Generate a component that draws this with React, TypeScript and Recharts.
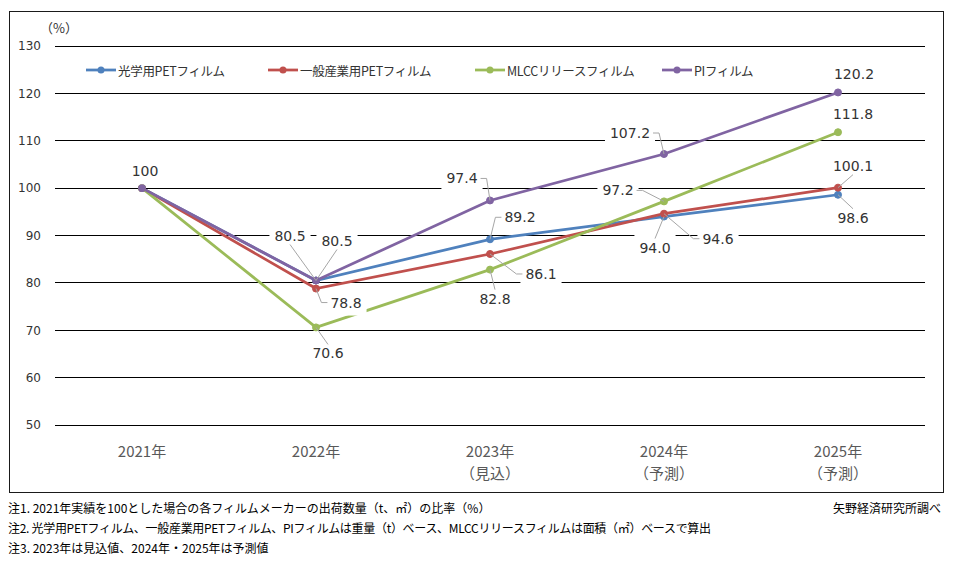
import { CartesianGrid, LabelList, Line, LineChart, XAxis, YAxis } from "recharts";

const years = ["2021年", "2022年", "2023年", "2024年", "2025年"];
const yearNotes = ["", "", "（見込）", "（予測）", "（予測）"];

const opticalPet = [100, 80.5, 89.2, 94.0, 98.6];
const industrialPet = [100, 78.8, 86.1, 94.6, 100.1];
const mlccRelease = [100, 70.6, 82.8, 97.2, 111.8];
const piFilm = [100, 80.5, 97.4, 107.2, 120.2];

const yTicks = [50, 60, 70, 80, 90, 100, 110, 120, 130];

const notes = [
  "注1. 2021年実績を100とした場合の各フィルムメーカーの出荷数量（t、㎡）の比率（%）",
  "注2. 光学用PETフィルム、一般産業用PETフィルム、PIフィルムは重量（t）ベース、MLCCリリースフィルムは面積（㎡）ベースで算出",
  "注3. 2023年は見込値、2024年・2025年は予測値",
];
const source = "矢野経済研究所調べ";

const data = years.map((year, i) => ({
  year,
  optical: opticalPet[i],
  industrial: industrialPet[i],
  mlcc: mlccRelease[i],
  pi: piFilm[i],
}));

// label placement relative to the point, like the moved excel labels
type LabelPos = { dx: number; dy: number; leader?: "h" | "v" } | null;

const series = [
  {
    key: "optical",
    name: "光学用PETフィルム",
    color: "#4F81BD",
    labels: [null, { dx: -26, dy: -45, leader: "v" }, { dx: 30, dy: -22, leader: "h" }, { dx: -9, dy: 31, leader: "v" }, { dx: 15, dy: 23, leader: "v" }] as LabelPos[],
  },
  {
    key: "industrial",
    name: "一般産業用PETフィルム",
    color: "#C0504D",
    labels: [null, { dx: 30, dy: 14, leader: "h" }, { dx: 51, dy: 20, leader: "h" }, { dx: 54, dy: 25, leader: "h" }, { dx: 15, dy: -22, leader: "v" }] as LabelPos[],
  },
  {
    key: "mlcc",
    name: "MLCCリリースフィルム",
    color: "#9BBB59",
    labels: [null, { dx: 12, dy: 26, leader: "v" }, { dx: 5, dy: 29, leader: "v" }, { dx: -46, dy: -11, leader: "h" }, { dx: 15, dy: -18 }] as LabelPos[],
  },
  {
    key: "pi",
    name: "PIフィルム",
    color: "#8064A2",
    labels: [{ dx: 3, dy: -17 }, { dx: 21, dy: -40, leader: "v" }, { dx: -28, dy: -22, leader: "h" }, { dx: -34, dy: -21, leader: "h" }, { dx: 16, dy: -18 }] as LabelPos[],
  },
];

const legendLeft = [86, 268, 475, 662];

const makeLabel = (labels: LabelPos[]) => (props: any) => {
  const { x, y, value, index } = props;
  const pos = labels[index];
  if (!pos || x == null || y == null) return null;
  const text = index === 0 ? String(value) : Number(value).toFixed(1);
  const hw = (text.length * 8.9 - (text.includes(".") ? 4.45 : 0)) / 2;
  const cx = x + pos.dx;
  const cy = y + pos.dy;
  let leader = "";
  if (pos.leader === "h") {
    const s = Math.sign(pos.dx);
    const ax = cx - s * (hw + 3);
    leader = `M${x},${y}L${ax - s * 6},${cy}L${ax},${cy}`;
  } else if (pos.leader === "v") {
    const s = Math.sign(pos.dy);
    leader = `M${x},${y}L${cx},${cy - s * 9}`;
  }
  return (
    <g>
      <rect x={cx - hw - 5} y={cy - 13} width={hw * 2 + 10} height={26} fill="#fff" />
      {leader && <path d={leader} stroke="#a6a6a6" strokeWidth={1} fill="none" />}
      <text x={cx} y={cy} dy="0.36em" textAnchor="middle" fontFamily="DejaVu Sans" fontSize={14} fill="#333">
        {text}
      </text>
    </g>
  );
};

const YearTick = (props: any) => {
  const { x, y, payload } = props;
  const i = years.indexOf(payload.value);
  return (
    <g fontFamily="Noto Sans CJK JP" fontSize={15} fill="#595959">
      <text x={x} y={y + 32} textAnchor="middle">
        {payload.value}
      </text>
      {yearNotes[i] && (
        <text x={x} y={y + 54} textAnchor="middle">
          {yearNotes[i]}
        </text>
      )}
    </g>
  );
};

export default function App() {
  return (
    <div style={{ position: "absolute", left: 0, top: 0, width: 956, height: 584, background: "#fff" }}>
      <div style={{ position: "absolute", left: 9, top: 11, width: 933, height: 480, border: "1px solid #1a1a1a" }} />
      <LineChart width={956} height={584} data={data} margin={{ top: 46, right: 31, bottom: 99, left: 10 }}>
        <CartesianGrid vertical={false} stroke="#000" strokeWidth={1} shapeRendering="crispEdges" />
        <XAxis
          dataKey="year"
          axisLine={false}
          tickLine={false}
          tickSize={0}
          tickMargin={0}
          height={60}
          padding={{ left: 87, right: 87 }}
          tick={<YearTick />}
          interval={0}
        />
        <YAxis
          domain={[50, 130]}
          ticks={yTicks}
          width={45}
          axisLine={false}
          tickLine={false}
          tickSize={6}
          tickMargin={8}
          tick={{ fontFamily: "DejaVu Sans", fontSize: 12, fill: "#333" }}
        />
        {series.map((s) => (
          <Line
            key={s.key}
            type="linear"
            dataKey={s.key}
            name={s.name}
            stroke={s.color}
            strokeWidth={2.75}
            dot={{ r: 3.5, fill: s.color, stroke: s.color, strokeWidth: 1 }}
            activeDot={false}
            isAnimationActive={false}
          />
        ))}
        {series.map((s) => (
          <Line
            key={s.key + "-labels"}
            dataKey={s.key}
            stroke="none"
            dot={false}
            activeDot={false}
            legendType="none"
            isAnimationActive={false}
          >
            <LabelList dataKey={s.key} content={makeLabel(s.labels)} />
          </Line>
        ))}
      </LineChart>
      <div style={{ position: "absolute", left: 40, top: 18, fontFamily: "Noto Sans CJK JP", fontSize: 13, color: "#333" }}>
        （%）
      </div>
      {series.map((s, i) => (
        <div
          key={s.key}
          style={{
            position: "absolute",
            left: legendLeft[i],
            top: 61,
            height: 18,
            display: "flex",
            alignItems: "center",
            fontFamily: "Noto Sans CJK JP",
            fontSize: 12.5,
            color: "#333",
            whiteSpace: "nowrap",
            letterSpacing: -0.3,
          }}
        >
          <svg width={30} height={10} style={{ marginRight: 2 }}>
            <line x1={0} y1={5} x2={30} y2={5} stroke={s.color} strokeWidth={2.75} />
            <circle cx={15} cy={5} r={3.5} fill={s.color} />
          </svg>
          {s.name}
        </div>
      ))}
      {notes.map((n, i) => (
        <div
          key={i}
          style={{
            position: "absolute",
            left: 8,
            top: 500 + i * 20,
            lineHeight: "16px",
            fontFamily: "Noto Sans CJK JP",
            fontSize: 12,
            color: "#000",
            whiteSpace: "nowrap",
            letterSpacing: i === 1 ? -0.3 : 0,
          }}
        >
          {n}
        </div>
      ))}
      <div
        style={{
          position: "absolute",
          right: 15,
          top: 500,
          lineHeight: "16px",
          fontFamily: "Noto Sans CJK JP",
          fontSize: 12,
          color: "#000",
        }}
      >
        {source}
      </div>
    </div>
  );
}
